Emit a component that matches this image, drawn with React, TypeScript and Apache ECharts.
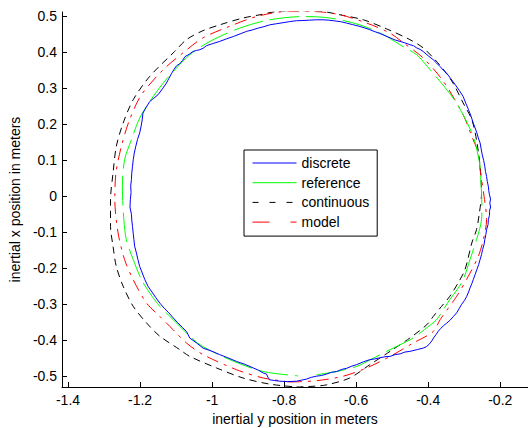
import React, { useEffect, useRef } from "react";
import * as echarts from "echarts";

const xTicks = [-1.4, -1.2, -1.0, -0.8, -0.6, -0.4, -0.2];
const yTicks = [-0.5, -0.4, -0.3, -0.2, -0.1, 0, 0.1, 0.2, 0.3, 0.4, 0.5];

const discrete: number[][] = [
  [-0.812, -0.514], [-0.79, -0.515], [-0.766, -0.514], [-0.752, -0.511], [-0.738, -0.508],
  [-0.724, -0.503], [-0.71, -0.5], [-0.696, -0.498], [-0.682, -0.494], [-0.668, -0.489],
  [-0.654, -0.487], [-0.64, -0.481], [-0.626, -0.478], [-0.612, -0.472], [-0.599, -0.468],
  [-0.58, -0.46], [-0.562, -0.454], [-0.548, -0.452], [-0.535, -0.449], [-0.52, -0.446],
  [-0.506, -0.445], [-0.492, -0.44], [-0.478, -0.438], [-0.465, -0.433], [-0.451, -0.431],
  [-0.43, -0.426], [-0.414, -0.422], [-0.405, -0.418], [-0.398, -0.412], [-0.39, -0.402],
  [-0.384, -0.392], [-0.378, -0.384], [-0.372, -0.375], [-0.365, -0.367], [-0.358, -0.36],
  [-0.348, -0.352], [-0.34, -0.345], [-0.33, -0.334], [-0.321, -0.324], [-0.314, -0.312],
  [-0.307, -0.3], [-0.299, -0.289], [-0.293, -0.278], [-0.288, -0.266], [-0.284, -0.255],
  [-0.279, -0.243], [-0.275, -0.232], [-0.27, -0.218], [-0.265, -0.204], [-0.26, -0.19],
  [-0.256, -0.176], [-0.252, -0.162], [-0.249, -0.148], [-0.245, -0.134], [-0.243, -0.121],
  [-0.24, -0.107], [-0.238, -0.093], [-0.234, -0.079], [-0.233, -0.065], [-0.23, -0.053],
  [-0.23, -0.042], [-0.227, -0.03], [-0.229, -0.019], [-0.227, -0.008], [-0.23, 0.004],
  [-0.232, 0.016], [-0.233, 0.027], [-0.236, 0.041], [-0.238, 0.055], [-0.241, 0.069],
  [-0.243, 0.083], [-0.246, 0.099], [-0.25, 0.115], [-0.253, 0.131], [-0.256, 0.148],
  [-0.261, 0.162], [-0.265, 0.176], [-0.27, 0.19], [-0.275, 0.203], [-0.281, 0.222],
  [-0.288, 0.24], [-0.296, 0.259], [-0.303, 0.277], [-0.314, 0.294], [-0.325, 0.31],
  [-0.337, 0.326], [-0.349, 0.342], [-0.358, 0.35], [-0.367, 0.36], [-0.377, 0.37],
  [-0.386, 0.379], [-0.4, 0.39], [-0.414, 0.402], [-0.423, 0.408], [-0.432, 0.412],
  [-0.441, 0.418], [-0.451, 0.421], [-0.465, 0.426], [-0.478, 0.43], [-0.492, 0.434],
  [-0.506, 0.44], [-0.52, 0.446], [-0.534, 0.452], [-0.548, 0.457], [-0.562, 0.4625],
  [-0.578, 0.468], [-0.595, 0.473], [-0.611, 0.477], [-0.627, 0.481], [-0.644, 0.485],
  [-0.66, 0.487], [-0.676, 0.489], [-0.692, 0.49], [-0.711, 0.49], [-0.73, 0.489],
  [-0.748, 0.488], [-0.766, 0.4875], [-0.785, 0.485], [-0.803, 0.482], [-0.822, 0.479],
  [-0.84, 0.476], [-0.856, 0.471], [-0.872, 0.467], [-0.888, 0.462], [-0.904, 0.458],
  [-0.922, 0.451], [-0.94, 0.444], [-0.96, 0.437], [-0.979, 0.43], [-0.998, 0.424],
  [-1.016, 0.418], [-1.025, 0.411], [-1.034, 0.407], [-1.043, 0.405], [-1.053, 0.402],
  [-1.064, 0.394], [-1.075, 0.388], [-1.082, 0.377], [-1.09, 0.368], [-1.099, 0.362],
  [-1.106, 0.352], [-1.113, 0.34], [-1.12, 0.327], [-1.127, 0.314], [-1.138, 0.298],
  [-1.15, 0.282], [-1.162, 0.272], [-1.173, 0.263], [-1.183, 0.247], [-1.192, 0.231],
  [-1.194, 0.212], [-1.197, 0.195], [-1.201, 0.176], [-1.207, 0.158], [-1.212, 0.138],
  [-1.216, 0.12], [-1.219, 0.101], [-1.221, 0.083], [-1.223, 0.064], [-1.224, 0.046],
  [-1.226, 0.028], [-1.225, 0.01], [-1.227, -0.01], [-1.228, -0.03], [-1.224, -0.05],
  [-1.223, -0.066], [-1.221, -0.084], [-1.219, -0.103], [-1.217, -0.121], [-1.215, -0.139],
  [-1.21, -0.158], [-1.206, -0.176], [-1.201, -0.195], [-1.194, -0.213], [-1.187, -0.231],
  [-1.178, -0.25], [-1.167, -0.266], [-1.156, -0.282], [-1.145, -0.297], [-1.133, -0.311],
  [-1.12, -0.324], [-1.108, -0.338], [-1.096, -0.351], [-1.083, -0.364], [-1.071, -0.376],
  [-1.062, -0.394], [-1.044, -0.407], [-1.025, -0.422], [-1.002, -0.43], [-0.979, -0.44],
  [-0.956, -0.449], [-0.932, -0.459], [-0.909, -0.467], [-0.886, -0.477], [-0.872, -0.483],
  [-0.858, -0.491], [-0.849, -0.494], [-0.845, -0.503], [-0.84, -0.51], [-0.826, -0.512],
  [-0.812, -0.514],
];

const reference: (number[] | string)[] = [
  [-0.71, -0.496], [-0.655, -0.487], [-0.599, -0.473], [-0.558, -0.453], [-0.516, -0.431],
  [-0.479, -0.413], [-0.442, -0.394], [-0.41, -0.37], [-0.377, -0.343], [-0.358, -0.315],
  [-0.34, -0.287], [-0.32, -0.26], [-0.303, -0.232], [-0.284, -0.176], [-0.266, -0.121],
  [-0.252, -0.065], [-0.251, -0.028], [-0.252, 0.009], [-0.254, 0.045], [-0.256, 0.083],
  [-0.264, 0.125], [-0.275, 0.166], [-0.303, 0.226], [-0.331, 0.273], [-0.36, 0.31],
  [-0.391, 0.347], [-0.414, 0.374], [-0.432, 0.393], [-0.479, 0.421], [-0.525, 0.449],
  [-0.59, 0.476], [-0.673, 0.495], [-0.747, 0.499], [-0.84, 0.49], [-0.923, 0.467],
  [-1.006, 0.43], [-1.062, 0.393], [-1.099, 0.356], [-1.136, 0.314], [-1.173, 0.263],
  [-1.201, 0.217], [-1.224, 0.157], [-1.243, 0.101], [-1.249, 0.027], [-1.245, -0.065],
  [-1.238, -0.121], [-1.219, -0.176], [-1.196, -0.232], [-1.173, -0.269], [-1.145, -0.306],
  [-1.108, -0.343], [-1.071, -0.38], [-1.034, -0.4125], [-0.951, -0.454], [-0.858, -0.487],
  [-0.761, -0.499],
];

const continuous: number[][] = [
  [-0.766, -0.53], [-0.72, -0.528], [-0.682, -0.524], [-0.618, -0.505], [-0.562, -0.468],
  [-0.506, -0.431], [-0.451, -0.394], [-0.404, -0.357], [-0.386, -0.334], [-0.363, -0.306],
  [-0.34, -0.278], [-0.317, -0.241], [-0.298, -0.204], [-0.279, -0.13], [-0.266, -0.093],
  [-0.258, -0.047], [-0.252, 0.009], [-0.256, 0.083], [-0.266, 0.157], [-0.279, 0.2125],
  [-0.303, 0.259], [-0.331, 0.314], [-0.354, 0.347], [-0.381, 0.379], [-0.414, 0.412],
  [-0.451, 0.435], [-0.516, 0.465], [-0.58, 0.49], [-0.645, 0.504], [-0.692, 0.513],
  [-0.747, 0.515], [-0.821, 0.513], [-0.867, 0.504], [-0.914, 0.495], [-0.979, 0.476],
  [-1.025, 0.46], [-1.071, 0.435], [-1.104, 0.402], [-1.173, 0.333], [-1.219, 0.268],
  [-1.247, 0.203], [-1.266, 0.138], [-1.275, 0.064], [-1.282, -0.01], [-1.282, -0.084],
  [-1.275, -0.139], [-1.266, -0.195], [-1.247, -0.25], [-1.219, -0.306], [-1.182, -0.352],
  [-1.145, -0.389], [-1.09, -0.426], [-1.062, -0.445], [-0.988, -0.477], [-0.914, -0.505],
  [-0.84, -0.522], [-0.766, -0.53],
];

const model: number[][] = [
  [-0.784, -0.516], [-0.71, -0.5125], [-0.636, -0.5], [-0.571, -0.477], [-0.506, -0.445],
  [-0.442, -0.408], [-0.386, -0.376], [-0.367, -0.343], [-0.321, -0.278], [-0.289, -0.223],
  [-0.261, -0.167], [-0.247, -0.121], [-0.238, -0.065], [-0.245, 0.0], [-0.256, 0.074],
  [-0.261, 0.12], [-0.279, 0.166], [-0.303, 0.226], [-0.358, 0.319], [-0.414, 0.384],
  [-0.469, 0.426], [-0.506, 0.453], [-0.571, 0.481], [-0.645, 0.504], [-0.719, 0.513],
  [-0.793, 0.513], [-0.877, 0.499], [-0.951, 0.472], [-1.025, 0.44], [-1.081, 0.398],
  [-1.136, 0.351], [-1.196, 0.282], [-1.229, 0.2125], [-1.252, 0.138], [-1.267, 0.064],
  [-1.27, -0.01], [-1.261, -0.102], [-1.243, -0.176], [-1.219, -0.232], [-1.182, -0.297],
  [-1.145, -0.334], [-1.108, -0.371], [-1.071, -0.408], [-1.025, -0.44], [-0.932, -0.482],
  [-0.858, -0.505], [-0.784, -0.516],
];

const FONT = "'Liberation Sans', Arial, sans-serif";
const FS = 14;
const fmt = (v: number) => String(Number(v.toFixed(1)));

export default function App() {
  const ref = useRef<HTMLDivElement>(null);
  useEffect(() => {
    if (!ref.current) return;
    const chart = echarts.init(ref.current, undefined, { renderer: "svg" });
    const axisCommon = {
      type: "value" as const,
      nameLocation: "middle" as const,
      nameTextStyle: { color: "#000", fontFamily: FONT, fontSize: FS },
      splitLine: { show: false },
      axisLine: { show: true, onZero: false, lineStyle: { color: "#000", width: 1 } },
    };
    const lineSeries = (name: string, data: any[], color: string, type: any, smooth: number, z: number) => ({
      name,
      type: "line",
      data,
      showSymbol: false,
      symbol: "none",
      smooth,
      lineStyle: { color, width: 1, type },
      itemStyle: { color },
      z,
    });
    chart.setOption({
      animation: false,
      backgroundColor: "#fff",
      grid: { left: 62, top: 12, right: 0, bottom: 41, containLabel: false, outerBoundsMode: "none" },
      xAxis: {
        ...axisCommon,
        min: -1.4167,
        max: -0.123,
        name: "inertial y position in meters",
        nameGap: 21,
        axisTick: { inside: true, length: 5, customValues: xTicks, lineStyle: { color: "#000" } },
        axisLabel: {
          customValues: xTicks,
          formatter: fmt,
          color: "#000",
          fontFamily: FONT,
          fontSize: FS,
          margin: 6,
        },
      },
      yAxis: {
        ...axisCommon,
        min: -0.53,
        max: 0.5117,
        name: "inertial x position in meters",
        nameGap: 40,
        axisTick: { inside: true, length: 5, customValues: yTicks, lineStyle: { color: "#000" } },
        axisLabel: {
          customValues: yTicks,
          formatter: fmt,
          color: "#000",
          fontFamily: FONT,
          fontSize: FS,
          margin: 5,
        },
      },
      legend: {
        orient: "vertical",
        left: 244,
        top: 150,
        itemWidth: 44,
        itemHeight: 14,
        itemGap: 5.7,
        padding: [6, 8, 7, 8],
        borderColor: "#000",
        borderWidth: 1,
        backgroundColor: "#fff",
        itemStyle: { opacity: 0 },
        lineStyle: { width: 1 },
        textStyle: { color: "#000", fontFamily: FONT, fontSize: FS },
        data: [
          { name: "discrete", lineStyle: { width: 1, type: "solid" } },
          { name: "reference", lineStyle: { width: 1, type: "solid" } },
          { name: "continuous", lineStyle: { width: 1, type: [6, 11] } },
          { name: "model", lineStyle: { width: 1, type: [17, 21, 6, 100] } },
        ],
      },
      series: [
        lineSeries("discrete", discrete, "#0000ff", "solid", 0, 4),
        lineSeries("reference", reference, "#00ff00", [30, 7], 0.3, 3),
        lineSeries("continuous", continuous, "#000000", [7, 5], 0.3, 2),
        lineSeries("model", model, "#ff0000", [12, 6, 3, 6], 0.3, 2),
      ],
    });
    return () => chart.dispose();
  }, []);
  return <div ref={ref} style={{ width: 528, height: 428, position: "absolute", left: 0, top: 0 }} />;
}
